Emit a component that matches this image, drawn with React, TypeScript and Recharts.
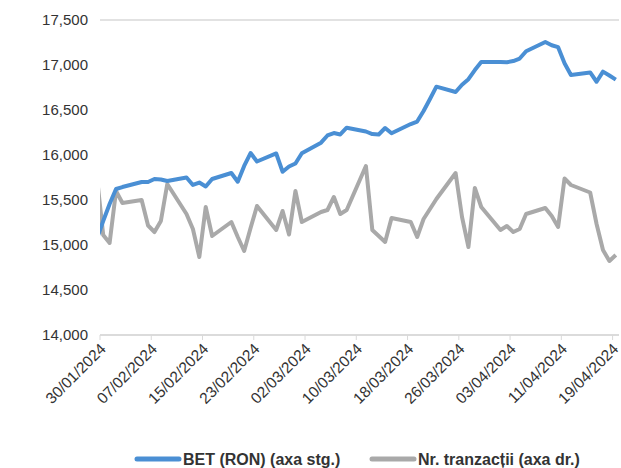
import React from "react";
import { LineChart, Line, XAxis, YAxis, CartesianGrid, Legend } from "recharts";

const dates = [
  "29/01/2024", "30/01/2024", "31/01/2024", "01/02/2024", "02/02/2024",
  "05/02/2024", "06/02/2024", "07/02/2024", "08/02/2024", "09/02/2024",
  "12/02/2024", "13/02/2024", "14/02/2024", "15/02/2024", "16/02/2024",
  "19/02/2024", "20/02/2024", "21/02/2024", "22/02/2024", "23/02/2024",
  "26/02/2024", "27/02/2024", "28/02/2024", "29/02/2024", "01/03/2024",
  "04/03/2024", "05/03/2024", "06/03/2024", "07/03/2024", "08/03/2024",
  "11/03/2024", "12/03/2024", "13/03/2024", "14/03/2024", "15/03/2024",
  "18/03/2024", "19/03/2024", "20/03/2024", "21/03/2024", "22/03/2024",
  "25/03/2024", "26/03/2024", "27/03/2024", "28/03/2024", "29/03/2024",
  "01/04/2024", "02/04/2024", "03/04/2024", "04/04/2024", "05/04/2024",
  "08/04/2024", "09/04/2024", "10/04/2024", "11/04/2024", "12/04/2024",
  "15/04/2024", "16/04/2024", "17/04/2024", "18/04/2024", "19/04/2024",
];

const bet = [
  15067, 15267, 15456, 15622, 15644,
  15700, 15700, 15733, 15728, 15711,
  15750, 15667, 15694, 15650, 15733,
  15800, 15703, 15878, 16022, 15928,
  16017, 15814, 15872, 15906, 16019,
  16137, 16217, 16244, 16228, 16303,
  16261, 16233, 16228, 16300, 16241,
  16344, 16372, 16489, 16622, 16759,
  16700, 16781, 16842, 16944, 17033,
  17033, 17030, 17044, 17072, 17153,
  17256, 17219, 17198, 17019, 16889,
  16917, 16814, 16926, 16883, 16837,
];

const trades = [
  17667, 11111, 10222, 16000, 14667,
  15000, 12167, 11444, 12667, 16778,
  13444, 11778, 8667, 14222, 11000,
  12556, 10889, 9333, 11889, 14333,
  11667, 13778, 11167, 16000, 12556,
  13667, 13889, 15333, 13444, 13889,
  18778, 11667, 11000, 10333, 13000,
  12556, 10889, 12889, 14000, 15111,
  18000, 13111, 9778, 16333, 14222,
  11667, 12111, 11444, 11778, 13444,
  14111, 13222, 12000, 17389, 16667,
  15833, 12333, 9444, 8222, 8889,
];

const tickLabels = [
  "30/01/2024", "07/02/2024", "15/02/2024", "23/02/2024", "02/03/2024",
  "10/03/2024", "18/03/2024", "26/03/2024", "03/04/2024", "11/04/2024",
  "19/04/2024",
];

const leftTicks = [14000, 14500, 15000, 15500, 16000, 16500, 17000, 17500];

const seriesNames = ["BET (RON) (axa stg.)", "Nr. tranzacții (axa dr.)"];
const colors = ["#4a8fd4", "#a9a9a9"];

const dayMs = 24 * 3600 * 1000;
const parse = (s: string) => {
  const [d, m, y] = s.split("/").map(Number);
  return Date.UTC(y, m - 1, d);
};
const origin = parse(tickLabels[0]);
const dayOf = (s: string) => Math.round((parse(s) - origin) / dayMs);

const data = dates.map((d, i) => ({
  x: dayOf(d) + 0.5,
  bet: bet[i],
  trades: trades[i],
}));

const xTicks = tickLabels.map(dayOf);
const labelByDay: Record<number, string> = {};
tickLabels.forEach((t) => (labelByDay[dayOf(t)] = t));

const FONT = "'Liberation Sans', Arial, sans-serif";

const XTick = (props: any) => {
  const { x, y, payload } = props;
  const tx = x + 3;
  const ty = y + 4;
  return (
    <text
      x={tx}
      y={ty}
      transform={`rotate(-45, ${tx}, ${ty})`}
      textAnchor="end"
      dominantBaseline="central"
      fontSize={15.5}
      fontFamily={FONT}
      fill="#333"
    >
      {labelByDay[payload.value]}
    </text>
  );
};

const LegendContent = () => (
  <svg width={621} height={30} style={{ display: "block" }}>
    <line x1={137} y1={21} x2={179} y2={21} stroke={colors[0]} strokeWidth={5} strokeLinecap="round" />
    <text x={183} y={21} dominantBaseline="central" fontSize={16} fontWeight="bold" fontFamily={FONT} fill="#333">
      {seriesNames[0]}
    </text>
    <line x1={372} y1={21} x2={414} y2={21} stroke={colors[1]} strokeWidth={5} strokeLinecap="round" />
    <text x={418} y={21} dominantBaseline="central" fontSize={16} fontWeight="bold" fontFamily={FONT} fill="#333">
      {seriesNames[1]}
    </text>
  </svg>
);

export default function App() {
  return (
    <div style={{ position: "absolute", left: 0, top: 0, background: "#fff" }}>
      <LineChart
        width={621}
        height={468}
        data={data}
        margin={{ top: 20, right: 2, bottom: 0, left: 0 }}
      >
        <CartesianGrid horizontal={true} vertical={false} stroke="#d9d9d9" strokeWidth={1.3} />
        <XAxis
          dataKey="x"
          type="number"
          domain={[0, 81]}
          allowDataOverflow
          ticks={xTicks}
          interval={0}
          height={103}
          tick={<XTick />}
          tickLine={{ stroke: "#d9d9d9" }}
          tickSize={5}
          axisLine={{ stroke: "#d9d9d9", strokeWidth: 1.3 }}
        />
        <YAxis
          yAxisId="left"
          domain={[14000, 17500]}
          ticks={leftTicks}
          width={100}
          axisLine={false}
          tickLine={false}
          tickMargin={6}
          tickFormatter={(v: number) => v.toLocaleString("en-US")}
          tick={{ fontSize: 15, fill: "#333", fontFamily: FONT }}
        />
        <YAxis yAxisId="right" orientation="right" domain={[0, 35000]} hide />
        <Legend verticalAlign="bottom" height={30} content={<LegendContent />} />
        <Line
          yAxisId="right"
          dataKey="trades"
          name={seriesNames[1]}
          stroke={colors[1]}
          strokeWidth={4}
          dot={false}
          isAnimationActive={false}
          strokeLinejoin="round"
        />
        <Line
          yAxisId="left"
          dataKey="bet"
          name={seriesNames[0]}
          stroke={colors[0]}
          strokeWidth={4}
          dot={false}
          isAnimationActive={false}
          strokeLinejoin="round"
        />
      </LineChart>
    </div>
  );
}
